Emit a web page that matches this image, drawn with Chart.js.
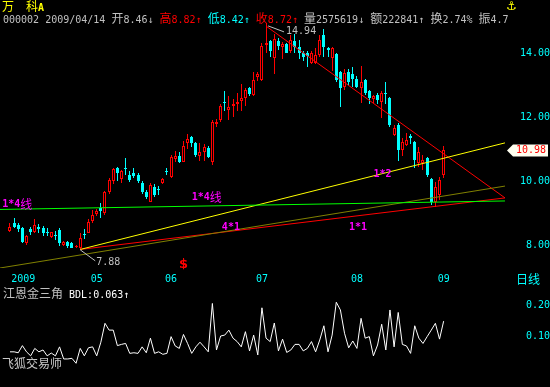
<!DOCTYPE html>
<html>
<head>
<meta charset="utf-8">
<title>万科A 日线</title>
<script src="https://cdn.jsdelivr.net/npm/chart.js@4.4.1/dist/chart.umd.min.js"></script>
<style>
  html, body { margin: 0; padding: 0; background: #000; }
  #box { position: relative; width: 550px; height: 387px; overflow: hidden; background: #000; }
  canvas { position: absolute; left: 0; }
  #price { top: 0; }
  #bdl { top: 287px; }
  .t { position: absolute; white-space: pre; font: 10px/12px "DejaVu Sans Mono", monospace; color: #c0c0c0; }
  .t i { font: normal 12px/12px "Noto Sans CJK SC", sans-serif; }
</style>
</head>
<body>
<div id="box">
  <canvas id="price" width="550" height="285"></canvas>
  <canvas id="bdl" width="550" height="100"></canvas>
  <div class="t" style="left:2px;top:0;color:#ffff00;font-weight:bold"><i>万</i>  <i>科</i>A</div>
  <div class="t" style="left:3px;top:12px">000002 2009/04/14 <i>开</i>8.46↓ <span style="color:#ff0000"><i>高</i>8.82↑</span> <span style="color:#00ffff"><i>低</i>8.42↑</span> <span style="color:#ff0000"><i>收</i>8.72↑</span> <i>量</i>2575619↓ <i>额</i>222841↑ <i>换</i>2.74% <i>振</i>4.7</div>
  <div class="t" style="left:506px;top:0;color:#ffff00;font:12px/12px 'DejaVu Sans'">⚓</div>
  <div class="t" style="left:516px;top:273px;color:#00ffff"><i>日线</i></div>
  <div class="t" style="left:3px;top:287px"><i>江恩金三角</i> <span style="color:#ffffff">BDL:0.063↑</span></div>
  <div class="t" style="left:2px;top:357px;color:#c8c8c8"><i>飞狐交易师</i></div>
</div>
<script>
// daily candles, 2009-04-01 .. 2009-09-01 (index = trading day)
const opens = [
  8.44, 8.70, 8.63, 8.52, 8.05, 8.50, 8.42, 8.57, 8.52, 8.40,
  8.25, 8.30, 8.47, 7.99, 8.10, 8.07, 7.95, 7.92, 8.33, 8.36,
  8.76, 8.97, 9.15, 9.00, 9.65, 10.00, 10.39, 10.05, 10.42, 10.19,
  10.26, 10.19, 9.93, 9.67, 9.35, 9.82, 9.74, 9.95, 10.32, 10.13,
  10.68, 10.78, 10.60, 11.18, 11.36, 11.18, 10.78, 10.92, 11.02, 10.60,
  11.77, 11.90, 12.48, 12.22, 12.34, 12.40, 12.50, 12.58, 12.90, 12.69,
  13.24, 13.16, 14.25, 14.37, 13.83, 14.37, 14.20, 14.27, 14.06, 14.36,
  14.20, 14.00, 14.00, 13.70, 13.70, 13.94, 14.56, 14.15, 13.85, 13.98,
  13.40, 12.94, 13.40, 13.35, 13.20, 12.90, 13.16, 12.80, 12.55, 12.68,
  12.48, 12.74, 12.58, 11.44, 11.75, 10.97, 11.13, 11.40, 11.23, 10.55,
  10.55, 10.71, 10.05, 9.35, 9.56, 10.19
];
const highs = [
  8.69, 8.84, 8.68, 8.55, 8.30, 8.56, 8.80, 8.65, 8.60, 8.52,
  8.42, 8.44, 8.52, 8.13, 8.13, 8.10, 8.00, 8.36, 8.50, 8.80,
  9.10, 9.12, 9.30, 9.70, 10.10, 10.40, 10.45, 10.35, 10.71, 10.30,
  10.40, 10.25, 10.00, 9.72, 9.95, 9.90, 9.85, 10.10, 10.40, 10.80,
  10.95, 10.92, 11.25, 11.47, 11.42, 11.22, 11.20, 11.15, 11.10, 11.90,
  11.95, 12.40, 12.80, 12.65, 12.55, 12.75, 13.02, 12.90, 12.95, 13.40,
  13.42, 14.30, 14.94, 14.40, 14.60, 14.48, 14.35, 14.30, 14.55, 14.60,
  14.40, 14.06, 14.05, 14.05, 14.15, 14.55, 14.75, 14.20, 14.20, 14.00,
  13.45, 13.50, 13.50, 13.55, 13.28, 13.60, 13.20, 12.85, 12.70, 12.75,
  12.80, 13.10, 12.62, 11.75, 11.80, 11.33, 11.50, 11.47, 11.25, 11.07,
  10.82, 10.75, 10.10, 9.98, 10.13, 11.10
];
const lows = [
  8.42, 8.53, 8.42, 8.05, 8.00, 8.30, 8.38, 8.38, 8.28, 8.28,
  8.22, 8.15, 7.98, 7.97, 7.92, 7.89, 7.92, 7.88, 8.20, 8.36,
  8.70, 8.90, 8.85, 8.95, 9.58, 9.90, 10.00, 9.95, 10.20, 9.98,
  10.10, 9.95, 9.60, 9.45, 9.33, 9.50, 9.55, 9.90, 10.20, 10.10,
  10.58, 10.56, 10.58, 11.00, 11.05, 10.76, 10.63, 10.63, 10.72, 10.50,
  11.70, 11.85, 12.20, 11.90, 12.00, 12.20, 12.20, 12.34, 12.65, 12.65,
  13.12, 13.12, 14.00, 13.87, 13.34, 14.10, 13.80, 13.99, 14.00, 14.00,
  13.80, 13.75, 13.57, 13.65, 13.65, 13.88, 13.88, 13.88, 13.45, 13.10,
  12.30, 12.85, 13.00, 12.95, 12.90, 12.44, 12.70, 12.40, 12.45, 12.40,
  11.97, 12.40, 11.70, 11.40, 10.61, 10.78, 11.09, 11.16, 10.41, 10.45,
  10.35, 10.13, 9.25, 9.19, 9.40, 10.10
];
const closes = [
  8.56, 8.57, 8.49, 8.10, 8.28, 8.39, 8.63, 8.49, 8.36, 8.38,
  8.39, 8.28, 8.05, 8.10, 7.96, 7.92, 7.98, 8.21, 8.30, 8.73,
  8.94, 9.06, 9.05, 9.65, 10.03, 10.37, 10.24, 10.32, 10.38, 10.03,
  10.16, 10.00, 9.67, 9.51, 9.88, 9.56, 9.72, 10.05, 10.28, 10.76,
  10.79, 10.60, 11.09, 11.30, 11.18, 10.81, 10.92, 11.07, 10.76, 11.85,
  11.85, 12.34, 12.45, 12.32, 12.40, 12.47, 12.58, 12.84, 12.71, 13.16,
  13.34, 14.23, 14.30, 14.06, 14.45, 14.23, 14.27, 13.99, 14.40, 14.19,
  14.00, 13.87, 13.90, 14.00, 13.95, 14.40, 14.20, 14.10, 14.15, 13.16,
  12.90, 13.36, 13.10, 13.20, 12.95, 13.10, 12.74, 12.60, 12.66, 12.52,
  12.76, 12.72, 11.75, 11.65, 10.97, 11.23, 11.28, 11.33, 10.66, 10.92,
  10.66, 10.19, 9.35, 9.82, 10.03, 10.98
];
// BDL indicator (江恩金三角)
const bdl = [
  0.049, 0.049, 0.046, 0.069, 0.049, 0.036, 0.060, 0.049, 0.055, 0.036,
  0.045, 0.036, 0.065, 0.026, 0.026, 0.028, 0.012, 0.060, 0.036, 0.062,
  0.065, 0.036, 0.080, 0.141, 0.119, 0.119, 0.069, 0.073, 0.076, 0.044,
  0.046, 0.044, 0.065, 0.046, 0.093, 0.044, 0.049, 0.041, 0.044, 0.098,
  0.068, 0.060, 0.105, 0.076, 0.044, 0.065, 0.080, 0.065, 0.049, 0.205,
  0.055, 0.100, 0.103, 0.119, 0.093, 0.082, 0.065, 0.114, 0.052, 0.103,
  0.039, 0.191, 0.093, 0.082, 0.142, 0.052, 0.090, 0.047, 0.055, 0.073,
  0.073, 0.052, 0.060, 0.082, 0.049, 0.087, 0.133, 0.049, 0.103, 0.209,
  0.184, 0.109, 0.062, 0.084, 0.060, 0.157, 0.093, 0.098, 0.036, 0.071,
  0.138, 0.055, 0.184, 0.065, 0.176, 0.073, 0.068, 0.044, 0.133, 0.093,
  0.076, 0.098, 0.119, 0.141, 0.090, 0.148
];
const monthLabels = ['2009', '05', '06', '07', '08', '09'];
const monthStarts = [0, 21, 39, 61, 84, 105];
const priceTicks = [8, 10, 12, 14];
const bdlTicks = [0.10, 0.20];
const dividendIdx = 42;

// gann lines, [index, price] end points
const gannGreen = [[-2.42, 9.11], [119.85, 9.375]];
const gannOlive = [[-2.42, 7.28], [119.85, 9.84]];
const gannYellow = [[17, 7.86], [119.85, 11.19]];
const gannRedUp = [[17, 7.86], [119.85, 9.47]];
const gannRedDown = [[62, 14.84], [119.85, 9.47]];

const CYAN = '#00ffff', RED = '#ff0000', GRAY = '#c0c0c0', MAGENTA = '#ff00ff';
const X_MIN = -2.42, X_MAX = 121.55;
const P_MIN = 7.28, P_MAX = 15.03;
const B_MIN = -0.058, B_MAX = 0.2484;

Chart.defaults.font.family = '"DejaVu Sans Mono", monospace';
Chart.defaults.font.size = 10;

const up = closes.map((c, i) => c >= opens[i]);

function xAxis(show) {
  return {
    type: 'linear', min: X_MIN, max: X_MAX, bounds: 'data', offset: false, display: show,
    grid: { display: false, drawTicks: false }, border: { display: false },
    // first label is pushed inside like the terminal does
    afterBuildTicks: s => { s.ticks = monthStarts.map((v, i) => ({ value: i === 0 ? v + 3.2 : v })); },
    afterFit: s => {
      s.height = show ? 17 : 0;
      s.paddingLeft = 0;
      s.paddingRight = 0;
    },
    ticks: { autoSkip: false, maxRotation: 0, padding: 5, color: CYAN, callback: (v, i) => monthLabels[i] }
  };
}

function yAxis(min, max, ticks, pad) {
  return {
    position: 'right', min: min, max: max, bounds: 'data',
    grid: { display: false, drawTicks: false }, border: { display: false },
    afterBuildTicks: s => { s.ticks = ticks.map(v => ({ value: v })); },
    afterFit: s => { s.width = 38; s.paddingTop = 0; s.paddingBottom = 0; },
    ticks: { crossAlign: 'far', padding: pad, color: CYAN, callback: v => v.toFixed(2) }
  };
}

function gann(pts, color) {
  return {
    type: 'line', data: pts.map(p => ({ x: p[0], y: p[1] })),
    borderColor: color, borderWidth: 1, pointRadius: 0, order: 0
  };
}

function mixedText(ctx, str, x, y, color, asciiFont) {
  ctx.fillStyle = color;
  ctx.textBaseline = 'middle';
  ctx.textAlign = 'left';
  for (const ch of str) {
    ctx.font = ch.charCodeAt(0) > 0x2e80 ? '12px "Noto Sans CJK SC"' : asciiFont;
    ctx.fillText(ch, x, y);
    x += ctx.measureText(ch).width;
  }
}

// keep candles on whole pixels so the thin bodies stay sharp
const snap = {
  id: 'snap',
  beforeDatasetsDraw(chart) {
    chart.getSortedVisibleDatasetMetas().forEach(m => {
      if (m.type !== 'bar') return;
      m.data.forEach(el => {
        el.x = Math.floor(el.x) + 0.5;
        el.y = Math.round(el.y);
        el.base = Math.round(el.base);
      });
    });
  }
};

const overlay = {
  id: 'overlay',
  afterDraw(chart) {
    const { ctx, scales: { x, y }, chartArea } = chart;
    ctx.save();

    const labels = [
      ['1*4线', -1.9, 9.28], ['1*4线', 44.0, 9.50], ['4*1', 51.3, 8.56],
      ['1*1', 82.1, 8.54], ['1*2', 88.0, 10.22]
    ];
    labels.forEach(l => mixedText(ctx, l[0], x.getPixelForValue(l[1]), y.getPixelForValue(l[2]), MAGENTA, 'bold 10px "DejaVu Sans Mono"'));

    // lowest low / highest high markers
    const lo = Math.min(...lows), loIdx = lows.indexOf(lo);
    const hi = Math.max(...highs), hiIdx = highs.indexOf(hi);
    ctx.strokeStyle = GRAY;
    ctx.lineWidth = 1;
    let px = x.getPixelForValue(loIdx), py = y.getPixelForValue(lo);
    ctx.beginPath(); ctx.moveTo(px, py + 1); ctx.lineTo(px + 15, py + 12); ctx.stroke();
    mixedText(ctx, lo.toFixed(2), px + 16, py + 14, GRAY, '10px "DejaVu Sans Mono"');
    px = x.getPixelForValue(hiIdx); py = y.getPixelForValue(hi);
    ctx.beginPath(); ctx.moveTo(px + 2, py + 3); ctx.lineTo(px + 18, py + 9); ctx.stroke();
    mixedText(ctx, hi.toFixed(2), px + 20, py + 9, GRAY, '10px "DejaVu Sans Mono"');

    // dividend mark
    ctx.fillStyle = RED;
    ctx.font = 'bold 13px "DejaVu Sans"';
    ctx.textAlign = 'center';
    ctx.fillText('$', x.getPixelForValue(dividendIdx), chartArea.bottom - 3);

    // last close tag on the axis
    const last = closes[closes.length - 1];
    const ty = Math.round(y.getPixelForValue(last)) + 0.5;
    ctx.fillStyle = '#fffff0';
    ctx.beginPath();
    ctx.moveTo(507, ty); ctx.lineTo(513, ty - 6); ctx.lineTo(548, ty - 6);
    ctx.lineTo(548, ty + 6); ctx.lineTo(513, ty + 6); ctx.closePath(); ctx.fill();
    ctx.fillStyle = RED;
    ctx.font = '10px "DejaVu Sans Mono"';
    ctx.textAlign = 'right';
    ctx.textBaseline = 'middle';
    ctx.fillText(last.toFixed(2), 546, ty);
    ctx.restore();
  }
};

new Chart(document.getElementById('price'), {
  type: 'bar',
  data: {
    datasets: [
      gann(gannGreen, '#00ff00'),
      gann(gannOlive, '#808000'),
      gann(gannYellow, '#ffff00'),
      gann(gannRedUp, RED),
      gann(gannRedDown, RED),
      {
        // real body: hollow red for up days, solid cyan for down days
        data: opens.map((o, i) => ({ x: i, y: [o, closes[i]] })),
        backgroundColor: up.map(u => u ? '#000000' : CYAN),
        borderColor: up.map(u => u ? RED : CYAN),
        borderWidth: 1, borderSkipped: false, inflateAmount: 0,
        barThickness: 3, maxBarThickness: 3, minBarLength: 1, grouped: false, order: 1
      },
      {
        data: lows.map((l, i) => ({ x: i, y: [l, highs[i]] })),
        backgroundColor: up.map(u => u ? RED : CYAN),
        borderWidth: 0, inflateAmount: 0,
        barThickness: 1, maxBarThickness: 1, minBarLength: 1, grouped: false, order: 2
      }
    ]
  },
  options: {
    responsive: false, animation: false, events: [],
    layout: { padding: { top: 20, left: 0, right: 0, bottom: 0 } },
    plugins: { legend: { display: false }, tooltip: { enabled: false } },
    scales: { x: xAxis(true), y: yAxis(P_MIN, P_MAX, priceTicks, 1) }
  },
  plugins: [snap, overlay]
});

new Chart(document.getElementById('bdl'), {
  type: 'line',
  data: {
    datasets: [{
      data: bdl.map((v, i) => ({ x: i, y: v })),
      borderColor: '#ffffff', borderWidth: 1, pointRadius: 0, tension: 0
    }]
  },
  options: {
    responsive: false, animation: false, events: [],
    layout: { padding: { top: 3, left: 0, right: 0, bottom: 2 } },
    plugins: { legend: { display: false }, tooltip: { enabled: false } },
    scales: { x: xAxis(false), y: yAxis(B_MIN, B_MAX, bdlTicks, 7) }
  }
});
</script>
</body>
</html>
